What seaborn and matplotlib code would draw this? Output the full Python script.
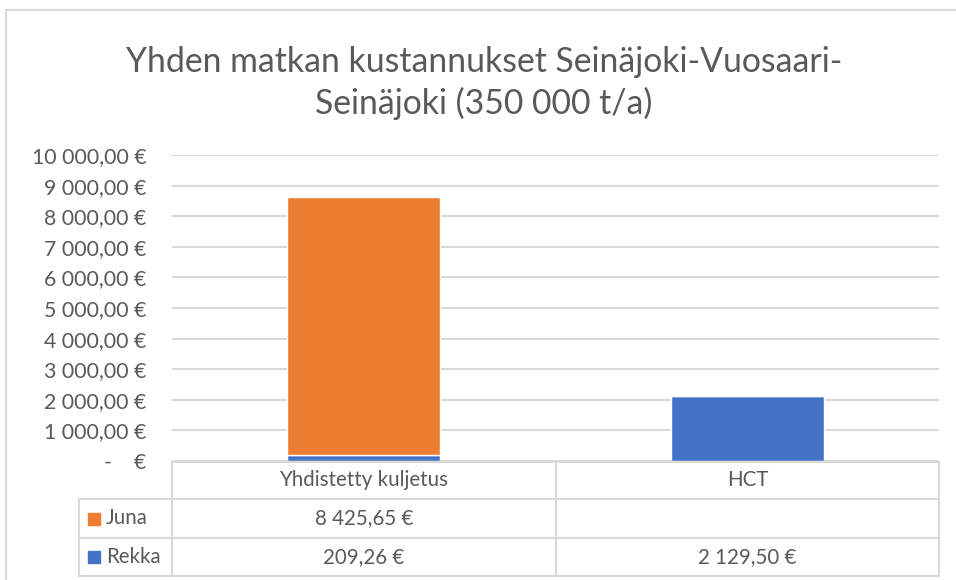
import matplotlib
matplotlib.use("Agg")
import matplotlib.pyplot as plt
from matplotlib.patches import Rectangle
from matplotlib.lines import Line2D
import seaborn as sns
import pandas as pd

# Cost data (€ per round trip)
categories = ["Yhdistetty kuljetus", "HCT"]
juna = [8425.65, None]
rekka = [209.26, 2129.50]
series_names = ["Juna", "Rekka"]
series_colors = ["#ED7D31", "#4472C4"]
title = "Yhden matkan kustannukset Seinäjoki-Vuosaari-\nSeinäjoki (350 000 t/a)"
y_ticks = [0, 1000, 2000, 3000, 4000, 5000, 6000, 7000, 8000, 9000, 10000]

sns.set_theme(style="white")
plt.rcParams["font.family"] = ["Lato", "DejaVu Sans"]

TEXT = "#595959"
GRID = "#D9D9D9"
W, H = 956, 580
fig = plt.figure(figsize=(W / 100, H / 100), dpi=100)


def fx(px):
    return px / W


def fy(py):
    return 1 - py / H


def eur(v):
    if not v:
        return "-    €"
    s = f"{v:,.2f}".replace(",", " ").replace(".", ",")
    return s + " €"


# outer chart frame
fig.add_artist(Rectangle((fx(6), fy(1000)), fx(1000), fy(10) - fy(1000),
                         transform=fig.transFigure, fill=False,
                         edgecolor=GRID, linewidth=1.5))

fig.text(fx(484), fy(83), title, ha="center", va="center", fontsize=24.3,
         color=TEXT, linespacing=1.36)

# plot area
ax = fig.add_axes([fx(172), fy(461), fx(939) - fx(172), fy(155) - fy(461)])
df = pd.DataFrame({"kategoria": categories, "Juna": juna, "Rekka": rekka})
df["Juna"] = df["Juna"].fillna(0)

sns.barplot(data=df, x="kategoria", y="Rekka", color=series_colors[1],
            width=0.4, saturation=1, ax=ax, zorder=3)
ax.bar(range(len(categories)), df["Juna"], bottom=df["Rekka"], width=0.4,
       color=series_colors[0], zorder=3)

ax.set_xlim(-0.5, len(categories) - 0.5)
ax.set_ylim(0, 10000)
ax.set_yticks(y_ticks)
ax.set_yticklabels([eur(v) for v in y_ticks])
ax.tick_params(axis="y", length=0, pad=18.5, labelsize=15.3, labelcolor=TEXT)
ax.set_xticks([])
ax.set_xlabel("")
ax.set_ylabel("")
for s in ax.spines.values():
    s.set_visible(False)
ax.yaxis.grid(True, color=GRID, linewidth=1.5, zorder=0)
ax.set_axisbelow(True)

# data table beneath the plot
def hline(y, x0, x1):
    fig.add_artist(Line2D([fx(x0), fx(x1)], [fy(y), fy(y)],
                          transform=fig.transFigure, color=GRID, linewidth=1.5))


def vline(x, y0, y1):
    fig.add_artist(Line2D([fx(x), fx(x)], [fy(y0), fy(y1)],
                          transform=fig.transFigure, color=GRID, linewidth=1.5))


rows_y = [462, 499, 538, 576]
col_x = [172, 556, 939]
hline(rows_y[0], 172, 939)
for y in rows_y[1:]:
    hline(y, 79, 939)
vline(79, rows_y[1], rows_y[3])
for x in col_x:
    vline(x, rows_y[0], rows_y[3])

col_centers = [(col_x[i] + col_x[i + 1]) / 2 for i in range(len(categories))]
for cx, cat in zip(col_centers, categories):
    fig.text(fx(cx), fy((rows_y[0] + rows_y[1]) / 2), cat, ha="center",
             va="center", fontsize=14.8, color=TEXT)

for r, (name, color, vals) in enumerate(zip(series_names, series_colors,
                                             [juna, rekka])):
    yc = (rows_y[r + 1] + rows_y[r + 2]) / 2
    fig.add_artist(Rectangle((fx(88), fy(yc + 6)), fx(12), fy(yc - 6) - fy(yc + 6),
                             transform=fig.transFigure, color=color))
    fig.text(fx(106), fy(yc), name, ha="left", va="center", fontsize=14.8,
             color=TEXT)
    for cx, v in zip(col_centers, vals):
        if v is not None:
            fig.text(fx(cx), fy(yc), eur(v), ha="center", va="center",
                     fontsize=14.8, color=TEXT)

fig.savefig("out.png", dpi=100)
